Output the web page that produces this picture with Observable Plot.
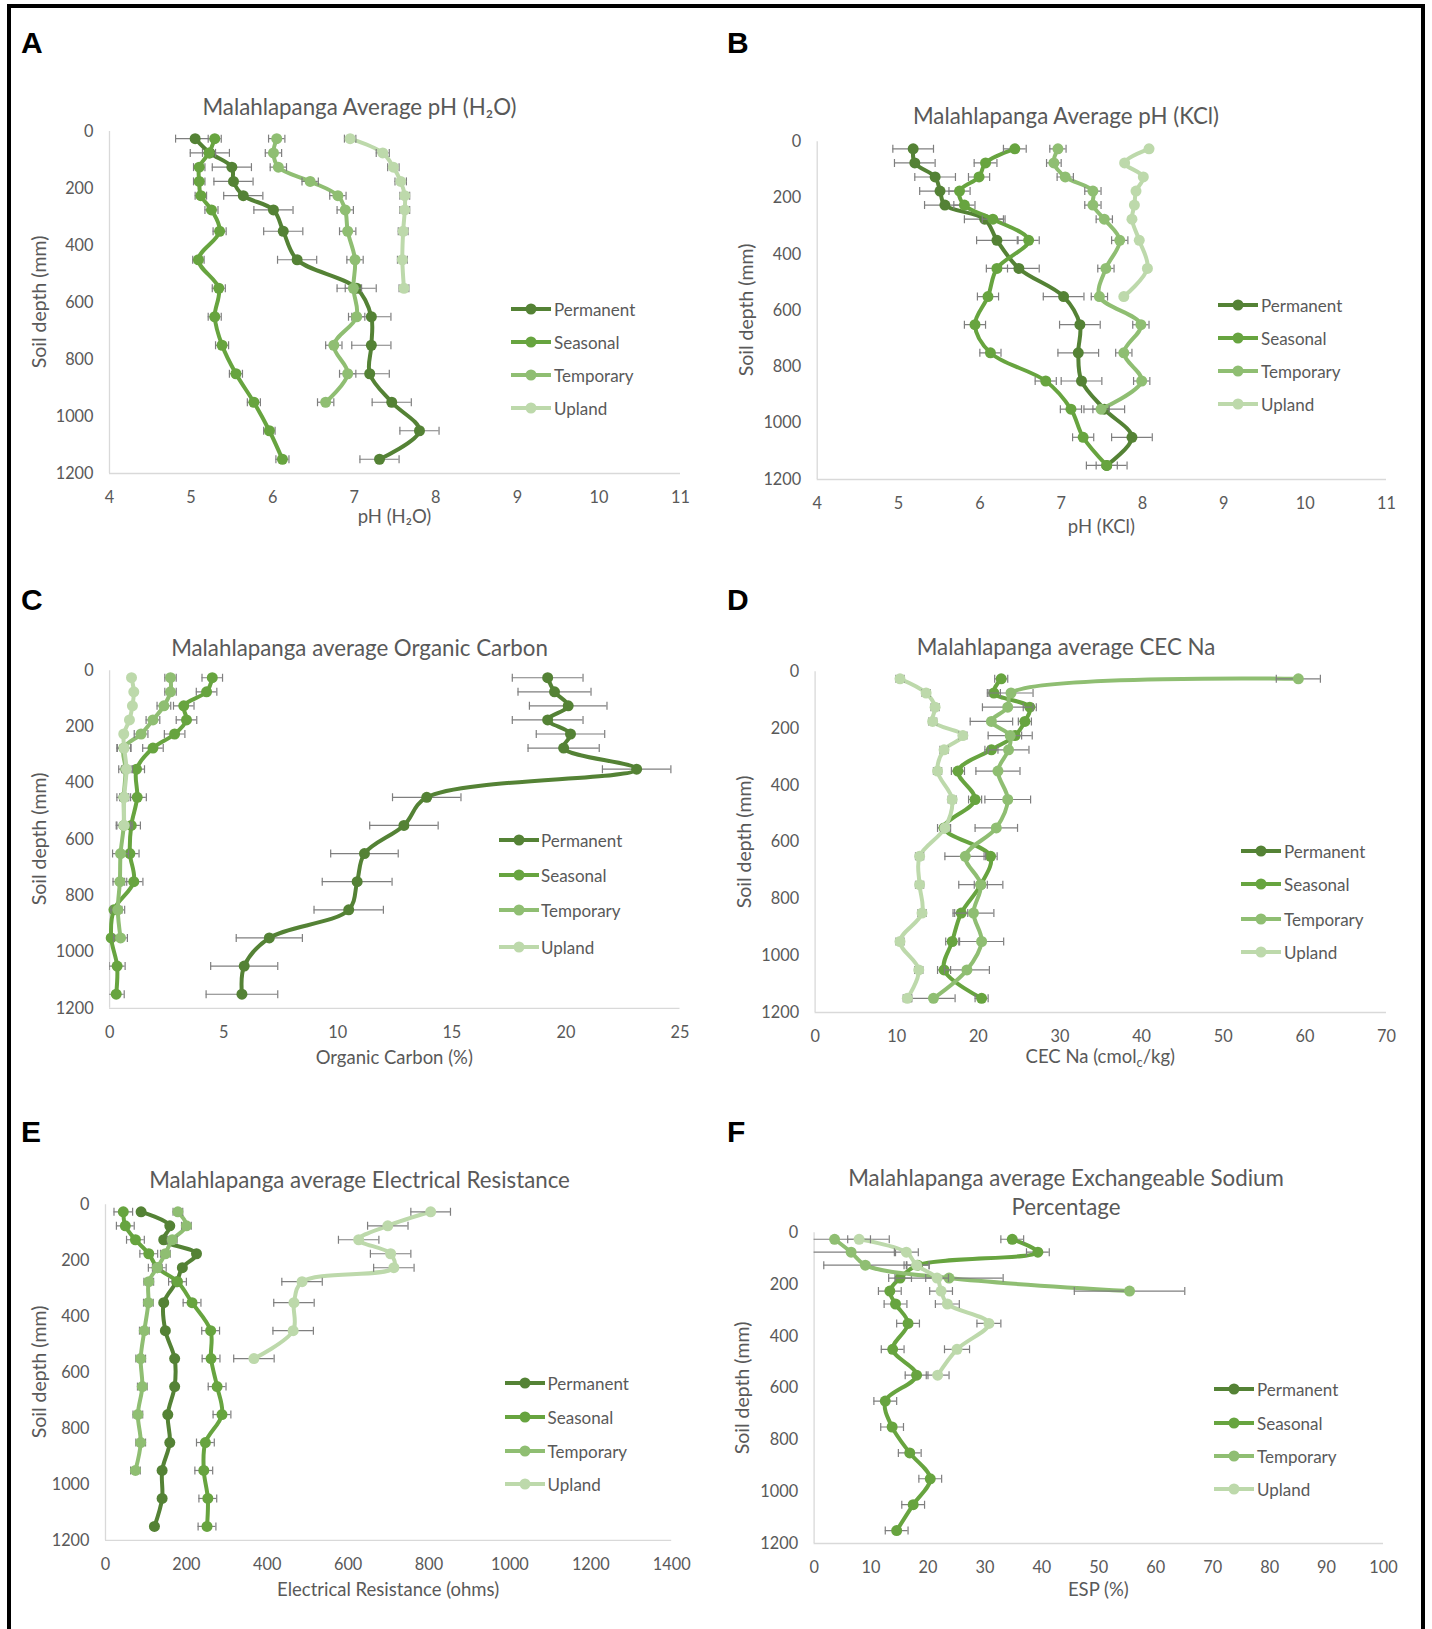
<!DOCTYPE html>
<html><head><meta charset="utf-8">
<script src="https://cdn.jsdelivr.net/npm/d3@7"></script>
<script src="https://cdn.jsdelivr.net/npm/@observablehq/plot@0.6"></script>
<style>
html,body{margin:0;padding:0;width:1432px;height:1629px;overflow:hidden;background:#fff;}
#fig{position:relative;width:1432px;height:1629px;font-family:Lato,"Open Sans",sans-serif;color:#595959;}
#frame{position:absolute;left:7px;top:4px;width:1418px;height:1700px;border:4px solid #000;box-sizing:border-box;}
.abs{position:absolute;white-space:nowrap;line-height:1;}
.letter{font-family:"Liberation Sans",Arial,sans-serif;font-weight:bold;font-size:30px;color:#000;}
.title{font-size:22.3px;transform:translate(-50%,-50%);}
.xlab{font-size:18.5px;transform:translate(-50%,-50%);}
.ylab{font-size:19.5px;transform:translate(-50%,-50%) rotate(-90deg);}
.leg{font-size:17px;transform:translateY(-50%);}
.legsw{position:absolute;transform:translateY(-50%);}
</style>
</head><body><div id="fig"><div id="frame"></div></div>
<script>
// ---------------- DATA ----------------
const depth = [25,75,125,175,225,275,350,450,550,650,750,850,950,1050,1150];
const seriesNames = ["Permanent","Seasonal","Temporary","Upland"];
const seriesColors = ["#548235","#67a43f","#8fbe72","#bdd9ab"];

// A: pH (H2O)
const phH2O_perm    = [5.05,5.23,5.50,5.52,5.64,6.01,6.13,6.30,7.03,7.21,7.21,7.19,7.46,7.80,7.31];
const phH2O_perm_se = [0.24,0.24,0.24,0.24,0.24,0.24,0.24,0.24,0.24,0.24,0.24,0.24,0.24,0.24,0.24];
const phH2O_seas    = [5.29,5.22,5.10,5.10,5.12,5.25,5.35,5.09,5.34,5.29,5.38,5.55,5.77,5.96,6.12];
const phH2O_seas_se = [0.08,0.08,0.07,0.07,0.07,0.08,0.08,0.07,0.08,0.08,0.08,0.08,0.08,0.07,0.08];
const phH2O_temp    = [6.05,6.01,6.07,6.46,6.80,6.89,6.92,7.01,6.99,7.03,6.75,6.92,6.65];
const phH2O_temp_se = [0.10,0.10,0.10,0.10,0.10,0.10,0.10,0.10,0.10,0.10,0.10,0.10,0.10];
const phH2O_up      = [6.95,7.35,7.48,7.57,7.62,7.62,7.60,7.59,7.61];
const phH2O_up_se   = [0.07,0.08,0.07,0.07,0.06,0.06,0.06,0.06,0.06];

// B: pH (KCl)
const phKCl_perm    = [5.18,5.20,5.45,5.51,5.57,6.06,6.21,6.48,7.03,7.23,7.21,7.25,7.53,7.87,7.56];
const phKCl_perm_se = [0.25,0.25,0.25,0.25,0.25,0.25,0.25,0.25,0.25,0.25,0.25,0.25,0.25,0.25,0.25];
const phKCl_seas    = [6.43,6.07,5.99,5.75,5.81,6.16,6.60,6.21,6.10,5.94,6.13,6.81,7.12,7.27,7.56];
const phKCl_seas_se = [0.14,0.14,0.13,0.13,0.13,0.13,0.13,0.13,0.13,0.13,0.13,0.13,0.13,0.13,0.13];
const phKCl_temp    = [6.96,6.91,7.05,7.39,7.39,7.53,7.72,7.55,7.47,7.98,7.77,7.99,7.49];
const phKCl_temp_se = [0.10,0.09,0.10,0.10,0.10,0.10,0.10,0.10,0.10,0.10,0.10,0.10,0.10];
const phKCl_up      = [8.08,7.78,8.01,7.92,7.90,7.87,7.96,8.06,7.77];
const phKCl_up_se   = [0.03,0.03,0.03,0.03,0.03,0.03,0.03,0.03,0.03];

// C: Organic Carbon (%)
const oc_perm    = [19.2,19.5,20.1,19.2,20.2,19.9,23.1,13.9,12.9,11.17,10.85,10.48,7.0,5.9,5.8];
const oc_perm_se = [1.55,1.6,1.7,1.55,1.5,1.56,1.5,1.5,1.5,1.48,1.53,1.52,1.45,1.47,1.57];
const oc_seas    = [4.50,4.25,3.25,3.37,2.85,1.90,1.18,1.21,0.95,0.89,1.06,0.19,0.07,0.33,0.29];
const oc_seas_se = [0.45,0.45,0.45,0.45,0.45,0.45,0.35,0.40,0.40,0.40,0.40,0.35,0.30,0.35,0.35];
const oc_temp    = [2.67,2.67,2.38,1.90,1.38,0.62,0.70,0.62,0.62,0.48,0.45,0.36,0.48];
const oc_temp_se = [0.25,0.25,0.30,0.30,0.30,0.30,0.30,0.30,0.30,0.35,0.30,0.30,0.30];
const oc_up      = [0.96,1.06,1.00,0.87,0.62,0.64,0.74,0.64,0.64];
const oc_up_se   = [0.00,0.00,0.00,0.00,0.00,0.30,0.20,0.20,0.35];

// D: CEC Na (cmolc/kg)
const cec_seas    = [22.8,21.9,26.3,25.7,24.5,21.6,17.5,19.6,15.8,21.5,20.3,17.9,16.8,15.8,20.4];
const cec_seas_se = [0.8,0.8,0.8,0.8,0.8,0.8,0.8,0.8,0.8,0.8,0.8,0.8,0.8,0.8,0.8];
const cec_temp    = [59.2,24.0,23.6,21.6,23.9,23.7,22.4,23.6,22.2,18.4,20.3,19.4,20.4,18.6,14.5];
const cec_temp_se = [2.7,2.7,3.1,2.6,2.7,2.5,2.7,2.8,2.6,2.5,2.7,2.5,2.7,2.75,2.65];
const cec_up      = [10.4,13.6,14.7,14.4,18.1,15.8,15.0,16.8,15.9,12.8,12.8,13.1,10.4,12.7,11.3];
const cec_up_se   = [0.5,0.5,0.5,0.5,0.5,0.5,0.5,0.5,0.5,0.5,0.5,0.5,0.5,0.5,0.5];

// E: Electrical Resistance (ohms)
const er_perm    = [88,159,144,225,190,176,144,148,171,171,154,159,140,140,121];
const er_seas    = [44,49,74,107,128,178,214,260,261,276,288,247,243,253,251];
const er_seas_se = [23,22,22,22,22,22,22,22,22,22,22,22,22,22,22];
const er_temp    = [179,200,165,148,128,107,106,96,87,91,80,87,74];
const er_temp_se = [12,12,12,12,12,12,12,12,12,12,12,12,12];
const er_up      = [804,698,626,705,713,486,466,464,367];
const er_up_se   = [49,50,50,50,50,50,50,50,50];

// F: ESP (%)
const esp_seas    = [34.8,39.3,18.2,15.1,13.3,14.3,16.5,13.8,18.0,12.5,13.7,16.8,20.4,17.4,14.5];
const esp_seas_se = [2.0,2.0,2.0,2.0,2.0,2.0,2.0,2.0,2.0,2.0,2.0,2.0,2.0,2.0,2.0];
const esp_temp    = [3.6,6.5,9.0,23.7,55.4];
const esp_temp_se = [9.6,7.8,7.3,9.5,9.7];
const esp_up      = [7.9,16.2,18.0,21.6,22.3,23.4,30.7,25.1,21.7];
const esp_up_se   = [2.0,2.1,2.2,2.0,2.0,2.1,2.1,2.2,2.0];

const depthTicks = [0,200,400,600,800,1000,1200];
const phTicks = [4,5,6,7,8,9,10,11];
const ocTicks = [0,5,10,15,20,25];
const cecTicks = [0,10,20,30,40,50,60,70];
const erTicks = [0,200,400,600,800,1000,1200,1400];
const espTicks = [0,10,20,30,40,50,60,70,80,90,100];

// ---------------- LAYOUT ----------------
const panels = [
  {letter:"A", lpos:[21,28], frame:{x0:109,x1:680,y0:131,y1:473}, xTicks:phTicks,
   title:["Malahlapanga Average pH (H₂O)"], tpos:[359.5,107], xlab:"pH (H₂O)", xlabY:516, ylabX:38.5,
   legend:{x:511, tx:554, ys:[308.6,341.9,375,408.3]},
   series:[[phH2O_perm,phH2O_perm_se],[phH2O_seas,phH2O_seas_se],[phH2O_temp,phH2O_temp_se],[phH2O_up,phH2O_up_se]]},
  {letter:"B", lpos:[727,28], frame:{x0:816.7,x1:1386,y0:141.3,y1:479}, xTicks:phTicks,
   title:["Malahlapanga Average pH (KCl)"], tpos:[1066,116.4], xlab:"pH (KCl)", xlabY:526, ylabX:746,
   legend:{x:1218, tx:1261, ys:[304.5,337.7,371,404.2]},
   series:[[phKCl_perm,phKCl_perm_se],[phKCl_seas,phKCl_seas_se],[phKCl_temp,phKCl_temp_se],[phKCl_up,phKCl_up_se]]},
  {letter:"C", lpos:[21,585], frame:{x0:109.1,x1:679.5,y0:670.2,y1:1007.8}, xTicks:ocTicks,
   title:["Malahlapanga average Organic Carbon"], tpos:[359.5,648.4], xlab:"Organic Carbon (%)", xlabY:1056.7, ylabX:38.5,
   legend:{x:498.7, tx:541, ys:[839.5,874.9,910.2,946.6]},
   series:[[oc_perm,oc_perm_se],[oc_seas,oc_seas_se],[oc_temp,oc_temp_se],[oc_up,oc_up_se]]},
  {letter:"D", lpos:[727,585], frame:{x0:814.6,x1:1386,y0:671.2,y1:1012}, xTicks:cecTicks,
   title:["Malahlapanga average CEC Na"], tpos:[1066,647.3], xlab:"CEC Na (cmol<sub style='font-size:70%'>c</sub>/kg)", xlabY:1057.8, ylabX:744,
   legend:{x:1240.6, tx:1284, ys:[851,884.2,918.5,951.8]},
   series:[null,[cec_seas,cec_seas_se],[cec_temp,cec_temp_se],[cec_up,cec_up_se]]},
  {letter:"E", lpos:[21,1117], frame:{x0:105,x1:671.2,y0:1204.3,y1:1539.9}, xTicks:erTicks,
   title:["Malahlapanga average Electrical Resistance"], tpos:[359.5,1180.3], xlab:"Electrical Resistance (ohms)", xlabY:1588.7, ylabX:38.5,
   legend:{x:505, tx:547.6, ys:[1383,1417,1450.5,1483.8]},
   series:[[er_perm,null],[er_seas,er_seas_se],[er_temp,er_temp_se],[er_up,er_up_se]]},
  {letter:"F", lpos:[727,1117], frame:{x0:813.6,x1:1383,y0:1232.3,y1:1543}, xTicks:espTicks,
   title:["Malahlapanga average Exchangeable Sodium","Percentage"], tpos:[1066,1178.3], tgap:29.1, xlab:"ESP (%)", xlabY:1588.7, ylabX:742,
   legend:{x:1213.6, tx:1257, ys:[1389,1422.5,1455.7,1489]},
   series:[null,[esp_seas,esp_seas_se],[esp_temp,esp_temp_se],[esp_up,esp_up_se]]}
];

const cap = {draw(ctx, size){ const h = Math.sqrt(size/Math.PI); ctx.moveTo(0,-h); ctx.lineTo(0,h); }};
const fig = document.getElementById("fig");

function addDiv(cls, x, y, html){
  const d = document.createElement("div");
  d.className = "abs " + cls; d.style.left = x + "px"; d.style.top = y + "px"; d.innerHTML = html;
  fig.appendChild(d); return d;
}

for (const p of panels){
  const f = p.frame;
  const svgL = Math.floor(f.x0) - 72, svgT = Math.floor(f.y0) - 18;
  const W = Math.ceil(f.x1) + 24 - svgL, H = Math.ceil(f.y1) + 42 - svgT;
  const xDomain = [p.xTicks[0], p.xTicks[p.xTicks.length-1]];
  const marks = [
    Plot.ruleX([xDomain[0]], {stroke:"#d9d9d9", strokeWidth:1.3}),
    Plot.ruleY([1200], {stroke:"#d9d9d9", strokeWidth:1.3})
  ];
  p.series.forEach((s, i) => {
    if (!s) return;
    const [vals, errs] = s;
    const rows = vals.map((v, j) => ({depth: depth[j], v, e: errs ? errs[j] : 0}));
    const color = seriesColors[i];
    marks.push(Plot.line(rows, {x:"v", y:"depth", stroke:color, strokeWidth:4, curve:"catmull-rom", strokeLinejoin:"round"}));
    const er = rows.filter(d => d.e > 0);
    if (er.length){
      marks.push(Plot.ruleY(er, {x1:d=>d.v-d.e, x2:d=>d.v+d.e, y:"depth", stroke:"#7f7f7f", strokeWidth:1.2, clip:true}));
      marks.push(Plot.dot(er, {x:d=>d.v-d.e, y:"depth", symbol:cap, r:4, stroke:"#7f7f7f", strokeWidth:1.2, fill:"none", clip:true}));
      marks.push(Plot.dot(er, {x:d=>d.v+d.e, y:"depth", symbol:cap, r:4, stroke:"#7f7f7f", strokeWidth:1.2, fill:"none", clip:true}));
    }
    marks.push(Plot.dot(rows, {x:"v", y:"depth", r:5.5, fill:color, stroke:"none"}));
  });
  const svg = Plot.plot({
    width: W, height: H,
    marginLeft: f.x0 - svgL, marginRight: (svgL + W) - f.x1,
    marginTop: f.y0 - svgT, marginBottom: (svgT + H) - f.y1,
    style: {background:"none", color:"#595959", fontFamily:"Lato, 'Open Sans', sans-serif", fontSize:"16.3px", overflow:"visible"},
    x: {domain: xDomain, ticks: p.xTicks, tickFormat: "d", tickSize: 0, tickPadding: 18, label: null},
    y: {domain: [0,1200], reverse: true, ticks: depthTicks, tickFormat: "d", tickSize: 0, tickPadding: 16, label: null},
    marks
  });
  svg.style.position = "absolute";
  svg.style.left = svgL + "px";
  svg.style.top = svgT + "px";
  fig.appendChild(svg);

  // texts
  addDiv("letter", p.lpos[0], p.lpos[1], p.letter);
  p.title.forEach((t, k) => addDiv("title", p.tpos[0], p.tpos[1] + k * (p.tgap || 0), t));
  addDiv("xlab", (f.x0 + f.x1) / 2, p.xlabY, p.xlab);
  addDiv("ylab", p.ylabX, (f.y0 + f.y1) / 2, "Soil depth (mm)");
  // legend
  seriesNames.forEach((name, i) => {
    const y = p.legend.ys[i];
    const sw = document.createElementNS("http://www.w3.org/2000/svg", "svg");
    sw.setAttribute("width", 40); sw.setAttribute("height", 14);
    sw.setAttribute("class", "legsw");
    sw.style.left = p.legend.x + "px"; sw.style.top = y + "px";
    sw.innerHTML = `<line x1="0" y1="7" x2="40" y2="7" stroke="${seriesColors[i]}" stroke-width="4"/><circle cx="20" cy="7" r="5.5" fill="${seriesColors[i]}"/>`;
    fig.appendChild(sw);
    addDiv("leg", p.legend.tx, y, name);
  });
}
</script>
</body></html>
